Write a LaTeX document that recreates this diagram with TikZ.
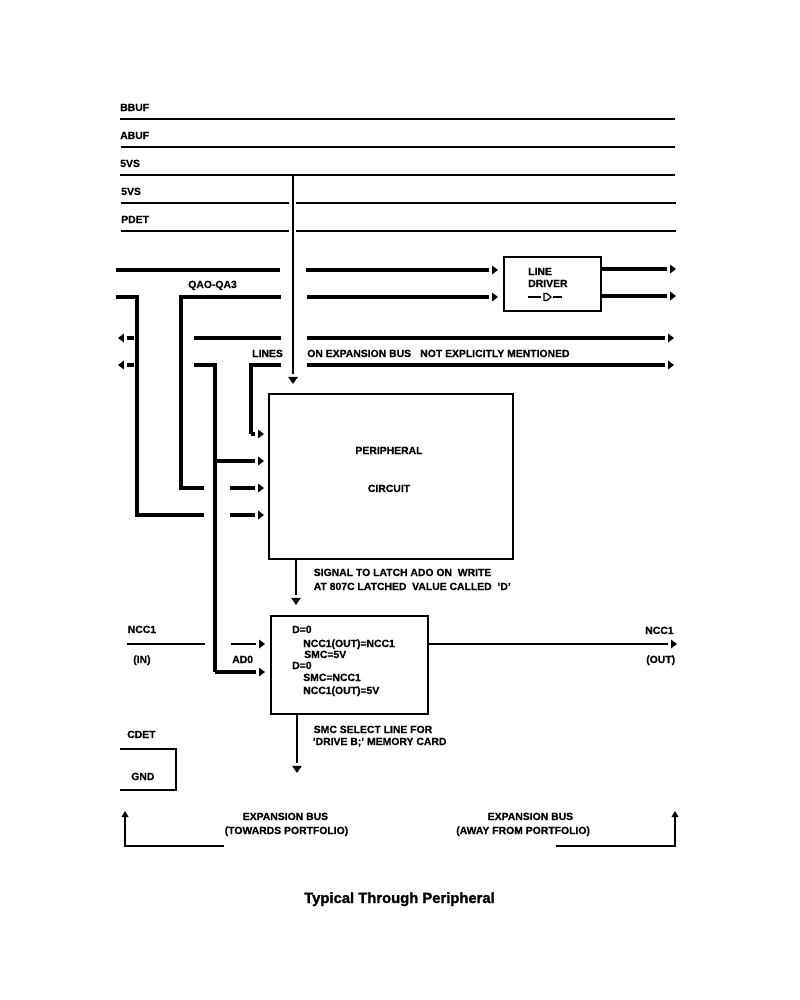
\documentclass[tikz,border=0pt]{standalone}
\usepackage{fontspec}
\setmainfont{Liberation Sans}[BoldFeatures={FakeBold=0.6}]
\newfontfamily\titlefont{Liberation Sans Bold}[FakeBold=1.6]
\usetikzlibrary{arrows.meta,decorations.markings}

\tikzset{
  lbl/.style={anchor=base west, inner sep=0pt, font=\fontsize{7.8pt}{9pt}\selectfont\bfseries},
  midlbl/.style={lbl, anchor=base},
  block/.style={draw, line width=1.5pt, inner sep=0pt, outer sep=0pt},
  bus/.style={line width=2.3pt},
  wire/.style={line width=1.6pt},
  gaptip/.style={shorten >=6.6pt, postaction={decorate, decoration={markings,
    mark=at position 1 with {\arrow{Triangle[length=4.4pt,width=6.4pt]}}}}},
  downtip/.style={shorten >=7.8pt, postaction={decorate, decoration={markings,
    mark=at position 1 with {\arrow{Triangle[length=5.4pt,width=7pt]}}}}},
  uptip/.style={-{Triangle[length=4.5pt,width=5pt]}}
}

\begin{document}
\begin{tikzpicture}[x=0.75pt,y=-0.75pt]
    \useasboundingbox (0,0) rectangle (800,1000);

    % supply rails
    \node[lbl] (bbuf label) at (120,111) {BBUF};
    \node[lbl] (abuf label) at (120,139) {ABUF};
    \node[lbl] (vs a label) at (120,167) {5VS};
    \node[lbl] (vs b label) at (121,195) {5VS};
    \node[lbl] (pdet label) at (121,223) {PDET};
    \coordinate (bbuf left)  at (120,119);
    \coordinate (bbuf right) at (675,119);
    \coordinate (abuf left)  at (121,147);
    \coordinate (abuf right) at (675,147);
    \coordinate (vs a left)  at (120,175);
    \coordinate (vs a tap)   at (293,175);
    \coordinate (vs a right) at (675,175);
    \coordinate (vs b left)  at (121,203);
    \coordinate (vs b gap l) at (289,203);
    \coordinate (vs b gap r) at (296,203);
    \coordinate (vs b right) at (676,203);
    \coordinate (pdet left)  at (121,231);
    \coordinate (pdet gap l) at (289,231);
    \coordinate (pdet gap r) at (296,231);
    \coordinate (pdet right) at (676,231);
    \coordinate (vs a end)   at (293,384);
    \draw[wire] (bbuf left) -- (bbuf right);
    \draw[wire] (abuf left) -- (abuf right);
    \draw[wire] (vs a left) -- (vs a right);
    \draw[wire] (vs b left) -- (vs b gap l);
    \draw[wire] (vs b gap r) -- (vs b right);
    \draw[wire] (pdet left) -- (pdet gap l);
    \draw[wire] (pdet gap r) -- (pdet right);
    \draw[wire,downtip] (vs a tap) -- (vs a end);

    % boxes
    \node[block, minimum width=73pt, minimum height=40.5pt] (driver) at (552.5,284) {};
    \node[block, minimum width=183pt, minimum height=123.75pt] (periph) at (391,476.5) {};
    \node[block, minimum width=117.75pt, minimum height=73.5pt] (latch) at (349.5,665) {};
    \node[midlbl] (periph text) at (389,454) {PERIPHERAL};
    \node[midlbl] (circuit text) at (389,492) {CIRCUIT};

    % line driver
    \node[lbl] (line text) at (528,275) {LINE};
    \node[lbl] (driver text) at (528,287) {DRIVER};
    \coordinate (sym a) at (528,297);
    \coordinate (sym b) at (540.5,297);
    \coordinate (sym c) at (552.5,297);
    \coordinate (sym d) at (562,297);
    \draw[wire] (sym a) -- (sym b);
    \draw[wire] (sym c) -- (sym d);
    \draw[line width=0.9pt] (544,293.5) -- (547,293.5) -- (551,297) -- (547,300.5) -- (544,300.5) -- cycle;
    \coordinate (drv out a) at (676,269);
    \coordinate (drv out b) at (676,296);
    \draw[bus,gaptip] (driver.east |- drv out a) -- (drv out a);
    \draw[bus,gaptip] (driver.east |- drv out b) -- (drv out b);

    % bus lines across the top
    \node[lbl] (qa label) at (188,288) {QAO-QA3};
    \node[lbl] (lines label) at (252,357) {LINES};
    \node[lbl] (on label) at (307,357) {ON EXPANSION BUS};
    \node[lbl] (not label) at (420,357) {NOT EXPLICITLY MENTIONED};
    \coordinate (a left)   at (116,270);
    \coordinate (a gap l)  at (280,270);
    \coordinate (a gap r)  at (306,270);
    \coordinate (a end)    at (498,270);
    \coordinate (b left)   at (116,297);
    \coordinate (b bend)   at (137,297);
    \coordinate (b low)    at (137,515);
    \coordinate (b stop)   at (204,515);
    \coordinate (b go)     at (230,515);
    \coordinate (b tip)    at (264,515);
    \coordinate (c gap l)  at (281,297);
    \coordinate (c bend)   at (181,297);
    \coordinate (c low)    at (181,488);
    \coordinate (c stop)   at (204,488);
    \coordinate (c go)     at (230,488);
    \coordinate (c tip)    at (264,488);
    \coordinate (c gap r)  at (307,297);
    \coordinate (c end)    at (498,297);
    \coordinate (d left)   at (194,338);
    \coordinate (d gap l)  at (281,338);
    \coordinate (d gap r)  at (307,338);
    \coordinate (d end)    at (674,338);
    \coordinate (e left)   at (194,365);
    \coordinate (e bend)   at (215,365);
    \coordinate (e tee)    at (215,461);
    \coordinate (e tee tip) at (264,461);
    \coordinate (e low)    at (215,672);
    \coordinate (e tip)    at (265,672);
    \coordinate (f gap l)  at (281,365);
    \coordinate (f bend)   at (251,365);
    \coordinate (f low)    at (251,434);
    \coordinate (f tip)    at (264,434);
    \coordinate (f gap r)  at (307,365);
    \coordinate (f end)    at (674,365);
    \coordinate (g start)  at (134,338);
    \coordinate (g tip)    at (118,338);
    \coordinate (h start)  at (134,365);
    \coordinate (h tip)    at (118,365);
    \draw[bus] (a left) -- (a gap l);
    \draw[bus,gaptip] (a gap r) -- (a end);
    \draw[bus] (b left) -- (b bend) -- (b low) -- (b stop);
    \draw[bus,gaptip] (b go) -- (b tip);
    \draw[bus] (c gap l) -- (c bend) -- (c low) -- (c stop);
    \draw[bus,gaptip] (c go) -- (c tip);
    \draw[bus,gaptip] (c gap r) -- (c end);
    \draw[bus] (d left) -- (d gap l);
    \draw[bus,gaptip] (d gap r) -- (d end);
    \draw[bus] (e left) -- (e bend) -- (e low);
    \draw[bus,gaptip] (e low) -- (e tip);
    \draw[bus,gaptip] (e tee) -- (e tee tip);
    \draw[bus] (f gap l) -- (f bend) -- (f low);
    \draw[bus,gaptip] (f low) -- (f tip);
    \draw[bus,gaptip] (f gap r) -- (f end);
    \draw[bus,gaptip] (g start) -- (g tip);
    \draw[bus,gaptip] (h start) -- (h tip);

    % latch signal
    \node[lbl] (signal a) at (313.5,576) {SIGNAL TO LATCH ADO ON\ \ WRITE};
    \node[lbl] (signal b) at (313.5,590) {AT 807C LATCHED\ \ VALUE CALLED\ \ 'D'};
    \coordinate (latch end) at (296,605);
    \draw[wire,downtip] (periph.south -| latch end) -- (latch end);

    % text in the latch box
    \node[lbl] (d zero a) at (292,633) {D=0};
    \node[lbl] (ncc out a) at (303,647) {NCC1(OUT)=NCC1};
    \node[lbl] (smc a) at (304,658) {SMC=5V};
    \node[lbl] (d zero b) at (292,669) {D=0};
    \node[lbl] (smc b) at (303,681) {SMC=NCC1};
    \node[lbl] (ncc out b) at (303,694) {NCC1(OUT)=5V};

    % ncc1 through the latch
    \node[lbl] (ncc in label) at (127.5,633) {NCC1};
    \node[lbl] (in label) at (133,663) {(IN)};
    \node[lbl] (ad label) at (232,663) {AD0};
    \node[lbl] (ncc out label) at (645,634) {NCC1};
    \node[lbl] (out label) at (646,663) {(OUT)};
    \coordinate (ncc left) at (127,644);
    \coordinate (ncc stop) at (205,644);
    \coordinate (ncc go)   at (231,644);
    \coordinate (ncc tip)  at (265,644);
    \coordinate (ncc end)  at (677,644);
    \draw[wire] (ncc left) -- (ncc stop);
    \draw[wire,gaptip] (ncc go) -- (ncc tip);
    \draw[wire,gaptip] (latch.east |- ncc end) -- (ncc end);

    % smc select
    \node[lbl] (smc text a) at (313.5,733) {SMC SELECT LINE FOR};
    \node[lbl] (smc text b) at (312.5,745) {'DRIVE B;' MEMORY CARD};
    \coordinate (smc end) at (297,773);
    \draw[wire,downtip] (latch.south -| smc end) -- (smc end);

    % card detect
    \node[lbl] (cdet label) at (127,738) {CDET};
    \node[lbl] (gnd label) at (131,780) {GND};
    \coordinate (cdet left) at (120,749);
    \coordinate (cdet top)  at (176,749);
    \coordinate (cdet low)  at (176,790);
    \coordinate (gnd left)  at (120,790);
    \draw[wire] (cdet left) -- (cdet top) -- (cdet low) -- (gnd left);

    % direction of the bus
    \node[lbl] (towards a) at (242.5,820) {EXPANSION BUS};
    \node[lbl] (towards b) at (224.5,834) {(TOWARDS PORTFOLIO)};
    \node[lbl] (away a) at (487.5,820) {EXPANSION BUS};
    \node[lbl] (away b) at (456,834) {(AWAY FROM PORTFOLIO)};
    \coordinate (towards start) at (224,846);
    \coordinate (towards bend)  at (125,846);
    \coordinate (towards tip)   at (125,811);
    \coordinate (away start)    at (556,846);
    \coordinate (away bend)     at (675,846);
    \coordinate (away tip)      at (675,811);
    \draw[wire,uptip] (towards start) -- (towards bend) -- (towards tip);
    \draw[wire,uptip] (away start) -- (away bend) -- (away tip);

    \node[midlbl, font=\fontsize{11.1pt}{13pt}\selectfont\titlefont] (title) at (399.5,903) {Typical Through Peripheral};
\end{tikzpicture}
\end{document}
